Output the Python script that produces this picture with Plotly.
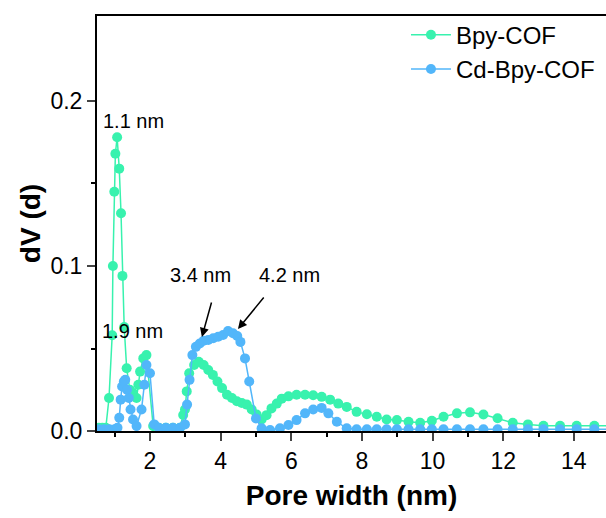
import plotly.graph_objects as go

# Bpy-COF
bpy_x = [0.55, 0.65, 0.75, 0.84, 0.93, 0.95, 0.99, 1.02, 1.07, 1.13, 1.18, 1.22, 1.27, 1.34,
         1.43, 1.52, 1.62, 1.67, 1.72, 1.81, 1.90, 2.09, 2.25, 2.45, 2.65, 2.85, 2.94, 2.99,
         3.04, 3.11, 3.25, 3.38, 3.52, 3.65, 3.78, 3.91, 4.04, 4.18, 4.32, 4.46, 4.60, 4.74,
         4.88, 5.02, 5.16, 5.30, 5.44, 5.59, 5.73, 5.92, 6.15, 6.39, 6.62, 6.86, 7.10, 7.33,
         7.57, 7.85, 8.14, 8.42, 8.70, 8.99, 9.32, 9.65, 9.98, 10.31, 10.69, 11.06, 11.44,
         11.84, 12.27, 12.70, 13.14, 13.61, 14.08, 14.58, 15.05]
bpy_y = [0.002, 0.002, 0.002, 0.020, 0.058, 0.100, 0.145, 0.168, 0.178, 0.159, 0.132, 0.094,
         0.063, 0.038, 0.025, 0.023, 0.020, 0.028, 0.036, 0.044, 0.046, 0.003, 0.002, 0.002,
         0.002, 0.002, 0.0097, 0.013, 0.024, 0.035, 0.040, 0.042, 0.040, 0.037, 0.034, 0.030,
         0.026, 0.022, 0.020, 0.018, 0.017, 0.016, 0.013, 0.010, 0.007, 0.0096, 0.0137,
         0.0166, 0.0196, 0.021, 0.022, 0.022, 0.0217, 0.0207, 0.019, 0.0166, 0.0146, 0.0116,
         0.0102, 0.0086, 0.007, 0.0066, 0.0056, 0.005, 0.0062, 0.0086, 0.0107, 0.0113, 0.010,
         0.0077, 0.005, 0.004, 0.0032, 0.0032, 0.0032, 0.0032, 0.0032]

# Cd-Bpy-COF
cd_x = [0.55, 0.70, 0.85, 1.00, 1.08, 1.13, 1.17, 1.21, 1.26, 1.30, 1.35, 1.40, 1.45, 1.52,
        1.62, 1.76, 1.84, 1.90, 2.00, 2.12, 2.25, 2.45, 2.65, 2.85, 2.99, 3.05, 3.12, 3.20,
        3.30, 3.41, 3.52, 3.65, 3.79, 3.93, 4.07, 4.21, 4.35, 4.47, 4.56, 4.69, 4.81, 5.00,
        5.16, 5.40, 5.68, 5.92, 6.15, 6.39, 6.62, 6.86, 7.05, 7.29, 7.57, 7.85, 8.14, 8.42,
        8.70, 8.99, 9.32, 9.65, 9.98, 10.31, 10.69, 11.06, 11.44, 11.84, 12.27, 12.70, 13.14,
        13.61, 14.08, 14.58, 15.05]
cd_y = [0.001, 0.001, 0.001, 0.001, 0.002, 0.008, 0.019, 0.027, 0.030, 0.031, 0.025, 0.020,
        0.013, 0.007, 0.003, 0.013, 0.028, 0.040, 0.035, 0.004, 0.002, 0.002, 0.002, 0.002,
        0.004, 0.016, 0.031, 0.046, 0.051, 0.053, 0.0547, 0.0552, 0.0562, 0.0571, 0.0582,
        0.0606, 0.0592, 0.0576, 0.054, 0.044, 0.030, 0.0076, 0.0016, 0.0006, 0.0016, 0.0036,
        0.0066, 0.0107, 0.013, 0.014, 0.0107, 0.0056, 0.0016, 0.001, 0.001, 0.001, 0.001,
        0.001, 0.001, 0.001, 0.001, 0.001, 0.001, 0.001, 0.001, 0.001, 0.001, 0.001, 0.001,
        0.001, 0.001, 0.001, 0.001]

x_ticks = [2, 4, 6, 8, 10, 12, 14]
y_ticks = [0.0, 0.1, 0.2]
y_tick_text = ["0.0", "0.1", "0.2"]

GREEN = "#38F2AE"
BLUE = "#52B6FA"
FONT = "Liberation Sans, Arial, sans-serif"

fig = go.Figure()
fig.add_trace(go.Scatter(x=bpy_x, y=bpy_y, mode="lines+markers", name="Bpy-COF",
                         line=dict(color=GREEN, width=1.5),
                         marker=dict(color=GREEN, size=10)))
fig.add_trace(go.Scatter(x=cd_x, y=cd_y, mode="lines+markers", name="Cd-Bpy-COF",
                         line=dict(color=BLUE, width=1.5),
                         marker=dict(color=BLUE, size=10)))

ann_font = dict(family=FONT, size=20, color="black")
annotations = [
    dict(x=1.54, y=0.188, text="1.1 nm", showarrow=False, font=ann_font),
    dict(x=1.51, y=0.0606, text="1.9 nm", showarrow=False, font=ann_font),
    dict(x=3.44, y=0.0945, text="3.4 nm", showarrow=False, font=ann_font),
    dict(x=5.96, y=0.0945, text="4.2 nm", showarrow=False, font=ann_font),
    dict(x=3.47, y=0.057, text="", showarrow=True, ax=10, ay=-36,
         arrowhead=2, arrowsize=1.2, arrowwidth=1.5, arrowcolor="black"),
    dict(x=4.49, y=0.0618, text="", showarrow=True, ax=27, ay=-33,
         arrowhead=2, arrowsize=1.2, arrowwidth=1.5, arrowcolor="black"),
]

fig.update_layout(
    width=606, height=518,
    margin=dict(l=97, r=0, t=16, b=87),
    paper_bgcolor="white", plot_bgcolor="white",
    font=dict(family=FONT, size=23, color="black"),
    annotations=annotations,
    legend=dict(x=0.607, y=1.008, xanchor="left", yanchor="top",
                bgcolor="rgba(0,0,0,0)", font=dict(family=FONT, size=24),
                itemwidth=40, tracegroupgap=0),
    showlegend=True,
)
fig.update_xaxes(
    range=[0.5, 14.91], tickvals=x_ticks, ticks="outside", ticklen=8, tickwidth=2,
    showline=True, linewidth=2, linecolor="black", mirror=True, showgrid=False,
    zeroline=False, tickfont=dict(family=FONT, size=23),
    minor=dict(tickvals=[1, 3, 5, 7, 9, 11, 13], ticks="outside", ticklen=4, tickwidth=2,
               tickcolor="black", showgrid=False),
    title=dict(text="<b>Pore width (nm)</b>", font=dict(family=FONT, size=28), standoff=13),
)
fig.update_yaxes(
    range=[0, 0.2515], tickvals=y_ticks, ticktext=y_tick_text, ticks="outside", ticklen=8,
    tickwidth=2, showline=True, linewidth=2, linecolor="black", mirror=False,
    showgrid=False, zeroline=False, tickfont=dict(family=FONT, size=23),
    minor=dict(tickvals=[0.05, 0.15], ticks="outside", ticklen=4, tickwidth=2,
               tickcolor="black", showgrid=False),
    title=dict(text="<b>dV (d)</b>", font=dict(family=FONT, size=28), standoff=2),
)

fig.write_html("out.html")
